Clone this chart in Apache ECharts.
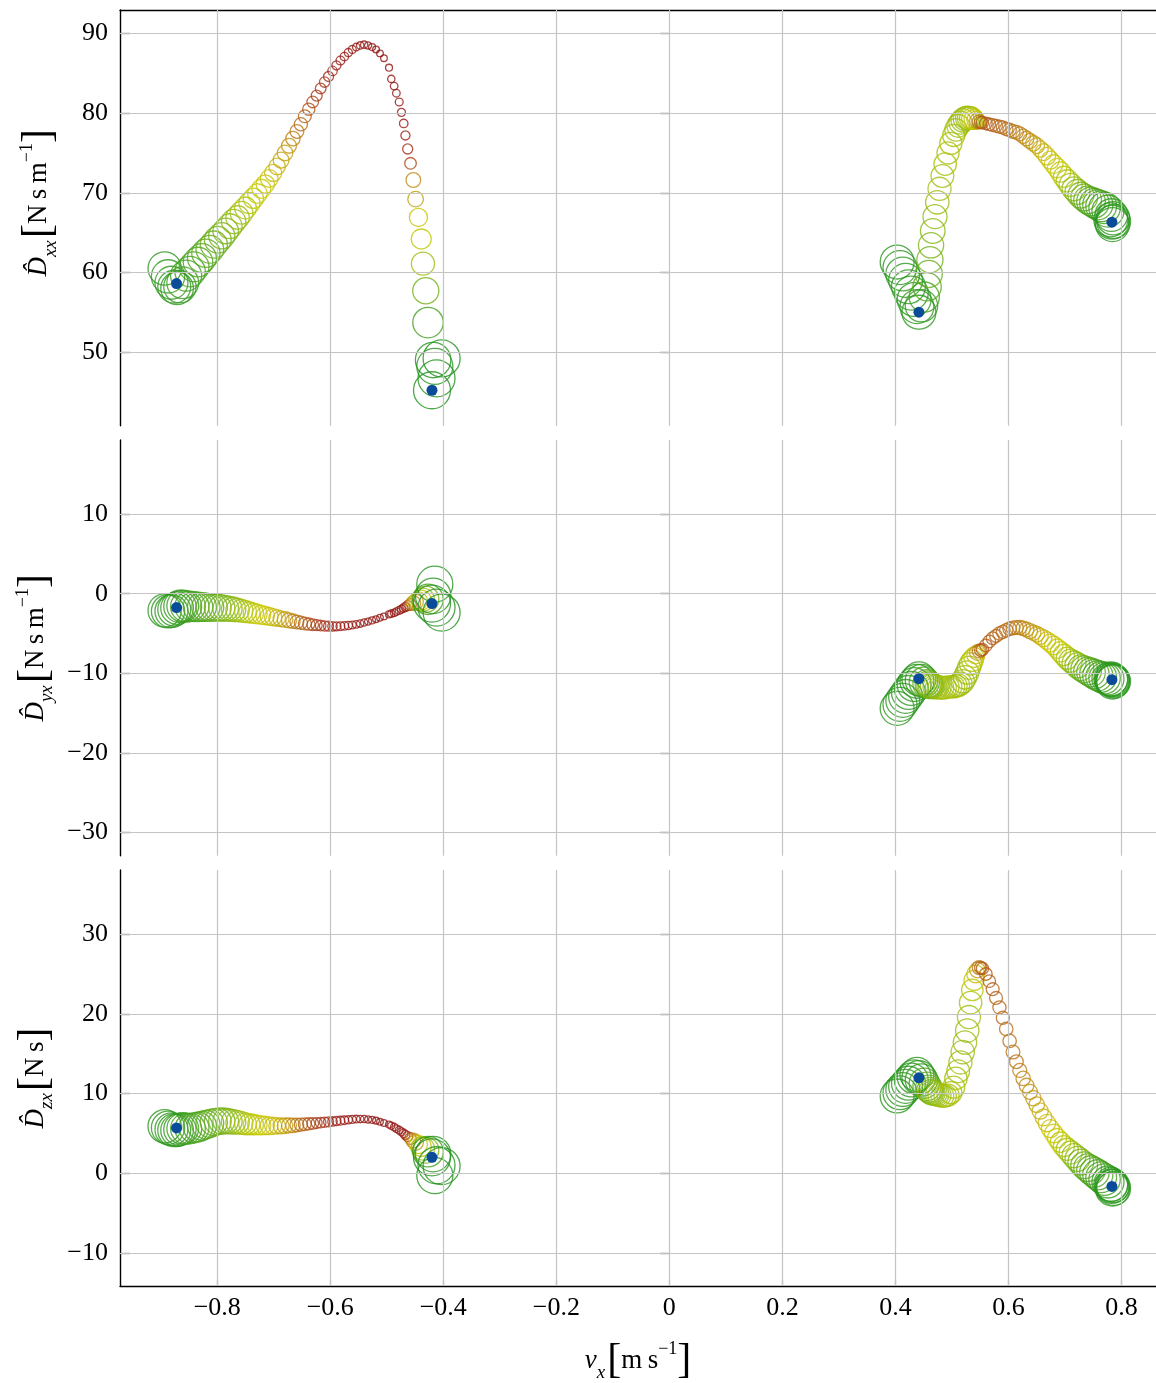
<!DOCTYPE html>
<html><head><meta charset="utf-8">
<script src="https://cdn.jsdelivr.net/npm/echarts@6/dist/echarts.min.js"></script>
<style>html,body{margin:0;padding:0;background:#fff}#c{width:1156px;height:1383px}</style>
</head><body><div id="c"></div>
<script>
// ---------------- data ----------------
const X_TICKS = [-0.8,-0.6,-0.4,-0.2,0,0.2,0.4,0.6,0.8];
const Y_TICKS_XX = [50,60,70,80,90];
const Y_TICKS_YX = [-30,-20,-10,0,10];
const Y_TICKS_ZX = [-10,0,10,20,30];

// negative-velocity branch
const negVx = [-0.893,-0.887,-0.881,-0.876,-0.871,-0.866,-0.861,
-0.855,-0.848,-0.841,-0.834,-0.827,-0.820,-0.813,-0.806,-0.799,-0.792,-0.785,-0.778,-0.771,-0.764,-0.757,-0.750,-0.743,-0.736,-0.729,-0.722,-0.715,-0.708,-0.701,-0.694,-0.687,-0.680,-0.673,-0.666,-0.659,-0.652,-0.645,-0.638,-0.631,-0.624,-0.617,-0.610,-0.603,-0.596,-0.589,-0.582,-0.575,-0.568,-0.561,-0.554,-0.547,-0.540,-0.533,-0.526,-0.519,-0.512,-0.505,
-0.496,-0.492,-0.487,-0.483,-0.478,-0.474,-0.470,-0.467,-0.463,-0.458,-0.453,-0.449,-0.444,-0.439,-0.436,-0.431,-0.427,
-0.418,-0.403,-0.415,-0.412,-0.420];
const negW = [.88,.88,.87,.87,.86,.85,.83,
.81,.79,.77,.76,.74,.72,.70,.68,.67,.65,.63,.61,.59,.56,.54,.51,.49,.46,.44,.42,.40,.38,.36,.34,.32,.31,.29,.27,.25,.23,.22,.20,.18,.16,.15,.14,.13,.11,.10,.09,.08,.07,.06,.05,.045,.04,.035,.03,.025,.02,.02,
.03,.04,.05,.05,.06,.065,.08,.10,.13,.18,.28,.31,.39,.45,.55,.65,.79,
.95,1.0,.97,1.0,1.0];
const negDxx = [60.5,59.5,58.7,58.2,58.0,58.2,58.7,
59.6,60.1,60.7,61.3,61.8,62.4,62.9,63.5,64.1,64.6,65.2,65.8,66.4,66.9,67.5,68.1,68.7,69.3,69.9,70.5,71.1,71.8,72.5,73.3,74.1,75.0,75.9,76.8,77.7,78.6,79.6,80.5,81.4,82.2,83.1,83.9,84.6,85.3,86.0,86.6,87.1,87.6,88.0,88.3,88.5,88.6,88.5,88.3,88.0,87.5,86.9,
85.7,84.3,83.4,82.5,81.4,80.1,78.7,77.2,75.5,73.7,71.6,69.2,66.9,64.2,61.1,57.7,53.7,
49.0,49.2,48.2,46.7,45.2];
const negDyx = [-2.1,-2.2,-2.2,-2.0,-1.8,-1.6,-1.55,
-1.6,-1.6,-1.62,-1.65,-1.67,-1.7,-1.72,-1.74,-1.76,-1.8,-1.85,-1.9,-1.97,-2.05,-2.15,-2.25,-2.35,-2.45,-2.55,-2.65,-2.75,-2.85,-2.95,-3.05,-3.15,-3.25,-3.35,-3.45,-3.55,-3.65,-3.75,-3.82,-3.9,-3.95,-4.0,-4.05,-4.08,-4.1,-4.1,-4.08,-4.05,-4.0,-3.93,-3.85,-3.75,-3.62,-3.5,-3.35,-3.2,-3.02,-2.85,
-2.6,-2.5,-2.4,-2.25,-2.1,-1.95,-1.8,-1.65,-1.5,-1.35,-1.2,-1.05,-0.9,-0.8,-0.75,-0.7,-0.7,
-0.27,-2.37,1.2,-1.74,-1.24];
const negDzx = [5.9,5.7,5.5,5.4,5.4,5.5,5.6,
5.6,5.6,5.7,5.8,5.95,6.1,6.25,6.4,6.5,6.55,6.55,6.5,6.45,6.4,6.3,6.2,6.15,6.1,6.05,6.0,6.0,5.95,5.95,5.95,5.95,5.95,6.0,6.0,6.05,6.1,6.15,6.2,6.25,6.3,6.35,6.4,6.45,6.5,6.55,6.6,6.65,6.7,6.75,6.8,6.8,6.8,6.75,6.7,6.6,6.45,6.3,
6.1,5.95,5.8,5.6,5.4,5.2,5.0,4.8,4.6,4.35,4.1,3.85,3.6,3.35,3.1,2.9,2.7,
2.4,0.9,-0.3,1.0,2.0];

// positive-velocity branch
const posVx = [0.403,0.408,0.413,0.418,0.423,0.428,0.433,0.438,0.4415,
0.446,0.451,0.456,0.459,0.461,0.463,0.466,0.470,0.474,0.478,0.483,0.488,0.493,0.498,0.503,0.507,0.511,0.515,0.519,0.523,0.527,0.530,0.533,0.536,0.539,0.542,0.545,0.548,0.551,
0.554,0.560,0.566,0.572,0.578,0.584,0.590,0.596,0.602,0.608,0.614,0.620,0.626,0.632,0.638,0.644,0.650,0.656,0.662,0.668,0.674,0.680,0.686,0.692,0.698,0.704,0.710,0.716,0.722,0.728,0.734,0.740,0.746,0.752,0.758,0.764,0.770,0.776,0.782,
0.785,0.786,0.784,0.781,0.783];
const posW = [.9,.9,.9,.9,.9,.9,.9,.9,.9,
.85,.78,.72,.68,.65,.62,.60,.58,.56,.55,.54,.53,.52,.52,.52,.53,.54,.55,.56,.56,.56,.55,.53,.50,.45,.38,.31,.25,.21,
.20,.21,.21,.22,.22,.23,.23,.24,.24,.25,.25,.26,.27,.28,.29,.30,.31,.33,.35,.37,.39,.41,.43,.46,.49,.52,.55,.58,.61,.64,.67,.70,.73,.76,.78,.80,.82,.84,.86,
.88,.9,.9,.9,.9];
const posDxx = [61.3,60.6,59.8,59.0,58.2,57.4,56.6,55.7,55.0,
55.8,56.9,58.2,59.8,61.6,63.4,65.2,67.0,68.8,70.5,72.1,73.6,75.0,76.2,77.2,77.9,78.4,78.8,79.1,79.3,79.4,79.4,79.4,79.3,79.2,79.1,79.0,78.9,78.85,
78.8,78.7,78.6,78.5,78.4,78.3,78.2,78.0,77.9,77.7,77.6,77.4,77.1,76.8,76.5,76.2,75.9,75.5,75.1,74.6,74.1,73.6,73.1,72.6,72.0,71.5,71.0,70.5,70.1,69.7,69.4,69.1,68.9,68.7,68.5,68.3,68.1,67.7,67.2,
66.8,66.4,66.0,66.6,66.3];
const posDyx = [-14.4,-13.9,-13.4,-12.9,-12.4,-11.9,-11.4,-11.0,-10.7,
-10.9,-11.1,-11.3,-11.4,-11.5,-11.6,-11.6,-11.7,-11.7,-11.8,-11.8,-11.8,-11.7,-11.7,-11.7,-11.6,-11.5,-11.3,-11.0,-10.5,-9.9,-9.3,-8.8,-8.4,-8.0,-7.7,-7.4,-7.2,-7.1,
-7.0,-6.5,-6.0,-5.6,-5.3,-5.0,-4.8,-4.6,-4.4,-4.3,-4.25,-4.25,-4.35,-4.5,-4.7,-4.9,-5.1,-5.35,-5.6,-5.9,-6.2,-6.5,-6.9,-7.3,-7.7,-8.1,-8.4,-8.7,-9.0,-9.3,-9.5,-9.7,-9.9,-10.1,-10.3,-10.45,-10.6,-10.7,-10.8,
-10.9,-11.0,-11.1,-10.7,-10.8];
const posDzx = [9.7,10.1,10.5,10.9,11.3,11.7,12.1,12.4,12.0,
11.7,11.3,10.9,10.6,10.4,10.2,10.1,10.0,9.9,9.8,9.7,9.7,9.8,10.1,10.8,11.9,12.8,13.9,15.2,16.4,17.9,19.6,21.4,23.0,24.2,25.0,25.5,25.8,25.8,
25.7,25.0,24.1,23.1,22.0,20.8,19.5,18.1,16.6,15.2,14.0,12.9,11.9,11.0,10.2,9.4,8.6,7.8,7.0,6.3,5.6,5.0,4.4,3.9,3.4,3.0,2.6,2.2,1.8,1.4,1.0,0.7,0.4,0.1,-0.2,-0.5,-0.8,-1.1,-1.5,
-1.6,-1.9,-2.0,-1.4,-1.66];

// final estimates (blue dots)
const markVx  = [-0.872, -0.420, 0.4415, 0.783];
const markDxx = [58.6, 45.2, 55.0, 66.3];
const markDyx = [-1.74, -1.24, -10.67, -10.8];
const markDzx = [5.68, 2.0, 11.97, -1.66];

// ---------------- styling ----------------
const SERIF = "'Liberation Serif','DejaVu Serif',serif";
const XR = [-0.972, 0.861];
const YR = [[40.75, 92.95], [-32.9, 19.3], [-14.15, 38.05]];
const GRIDS = [{top:10,height:415.7},{top:440,height:415.7},{top:870,height:416}];
const STOPS = [[0,[140,18,18]],[0.1,[155,30,22]],[0.18,[172,70,26]],[0.26,[188,125,22]],[0.34,[198,180,8]],[0.42,[202,202,0]],[0.5,[180,196,8]],[0.6,[135,183,18]],[0.72,[85,166,26]],[0.85,[48,153,30]],[1,[34,145,30]]];
function col(w){
  w=Math.max(0,Math.min(1,w));
  for(let i=1;i<STOPS.length;i++){
    if(w<=STOPS[i][0]){
      const a=STOPS[i-1],b=STOPS[i],t=(w-a[0])/(b[0]-a[0]);
      const c=a[1].map((v,k)=>Math.round(v+(b[1][k]-v)*t));
      return 'rgb('+c.join(',')+')';
    }
  }
  return 'rgb(34,145,30)';
}
function size(w){return 6+31*w;}
const fmt = v => (v===0?'0':String(v)).replace('-','\u2212');
const fmtX = v => (Math.abs(v)<1e-9?'0':v.toFixed(1)).replace('-','\u2212');

const rich = {
  d:{fontFamily:SERIF,fontStyle:'italic',fontSize:27,lineHeight:42,color:'#000'},
  s:{fontFamily:SERIF,fontStyle:'italic',fontSize:19,lineHeight:25,verticalAlign:'bottom',color:'#000'},
  b:{fontFamily:SERIF,fontSize:42,lineHeight:42,color:'#000'},
  t:{fontFamily:SERIF,fontSize:27,lineHeight:42,color:'#000'},
  p:{fontFamily:SERIF,fontSize:18,lineHeight:25,verticalAlign:'top',color:'#000'},
  g:{fontSize:8,lineHeight:42}
};
const NAMES = [
  '{d|D\u0302}{s|xx}{g| }{b|[}{t|N\u2009s\u2009m}{p|\u22121}{b|]}',
  '{d|D\u0302}{s|yx}{g| }{b|[}{t|N\u2009s\u2009m}{p|\u22121}{b|]}',
  '{d|D\u0302}{s|zx}{g| }{b|[}{t|N\u2009s}{b|]}'
];
const NAME_PAD = [[0,0,0,30],[0,0,0,0],[0,0,0,0]];
const YT = [Y_TICKS_XX, Y_TICKS_YX, Y_TICKS_ZX];
const DN = [[negDxx,posDxx],[negDyx,posDyx],[negDzx,posDzx]];
const MK = [markDxx, markDyx, markDzx];

const grid=[], xAxis=[], yAxis=[], series=[];
for(let p=0;p<3;p++){
  grid.push({left:120, width:1037, top:GRIDS[p].top, height:GRIDS[p].height});
  xAxis.push({
    type:'value', gridIndex:p, min:XR[0], max:XR[1],
    position: p===0?'top':'bottom',
    axisLine:{show:p!==1, onZero:false, lineStyle:{color:'#000',width:1.4}},
    axisTick:{show:p===2, inside:true, length:6, customValues:X_TICKS, lineStyle:{color:'#777',width:1.2}},
    axisLabel:{show:p===2, customValues:X_TICKS, formatter:fmtX, fontFamily:SERIF, fontSize:26, color:'#000', margin:9},
    splitLine:{show:false},
    name: p===2?'{d|v}{s|x}{g| }{b|[}{t|m\u2009s}{p|\u22121}{b|]}':'',
    nameLocation:'middle', nameGap:54, nameTextStyle:{rich:rich}
  });
  yAxis.push({
    type:'value', gridIndex:p, min:YR[p][0], max:YR[p][1], position:'left',
    axisLine:{show:true, onZero:false, lineStyle:{color:'#000',width:1.4}},
    axisTick:{show:true, inside:true, length:10, customValues:YT[p], lineStyle:{color:'#777',width:1.4}},
    axisLabel:{customValues:YT[p], formatter:fmt, fontFamily:SERIF, fontSize:26, color:'#000', margin:12},
    splitLine:{show:false},
    name:NAMES[p], nameLocation:'middle', nameGap:60, nameRotate:90,
    nameTextStyle:{rich:rich, padding:NAME_PAD[p]}
  });
}
for(let p=0;p<3;p++){
  yAxis.push({
    type:'value', gridIndex:p, min:YR[p][0], max:YR[p][1], position:'right',
    axisLine:{show:false},
    axisTick:{show:true, inside:true, length:9, customValues:YT[p], lineStyle:{color:'#777',width:1.4}},
    axisLabel:{show:false}, splitLine:{show:false}
  });
}
for(let p=0;p<3;p++){
  series.push({
    type:'scatter', xAxisIndex:p, yAxisIndex:p, data:[], silent:true, z:1,
    markLine:{silent:true, symbol:['none','none'], label:{show:false}, animation:false,
      lineStyle:{color:'#c4c4c4', width:1.2, type:'solid'},
      emphasis:{disabled:true},
      data:[...X_TICKS.map(v=>({xAxis:v})), ...YT[p].map(v=>({yAxis:v}))]}
  });
  const branches=[[negVx,negW,DN[p][0]],[posVx,posW,DN[p][1]]];
  branches.forEach(([vx,w,d])=>{
    series.push({
      type:'scatter', xAxisIndex:p, yAxisIndex:p, silent:true, z:3, symbol:'circle',
      data: vx.map((x,i)=>({value:[x,d[i]], symbolSize:size(w[i]),
        itemStyle:{color:'rgba(0,0,0,0)', borderColor:col(w[i]), borderWidth:1.3}}))
    });
  });
  series.push({
    type:'scatter', xAxisIndex:p, yAxisIndex:p, silent:true, z:5, symbol:'circle', symbolSize:11,
    itemStyle:{color:'#0b4c9a', opacity:1},
    data: markVx.map((x,i)=>[x, MK[p][i]])
  });
}

const chart = echarts.init(document.getElementById('c'), null, {renderer:'canvas'});
chart.setOption({animation:false, backgroundColor:'#fff', grid, xAxis, yAxis, series});
</script></body></html>
